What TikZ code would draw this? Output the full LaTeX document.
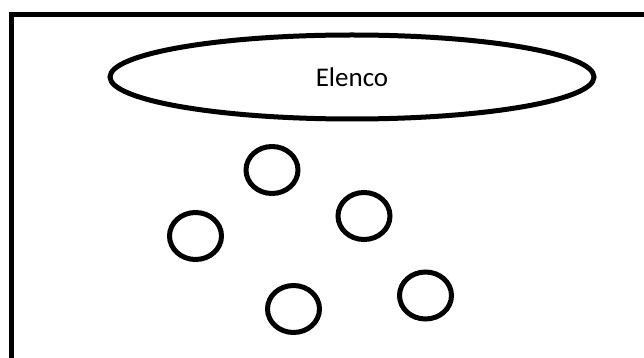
\documentclass[tikz,border=0pt]{standalone}
\usepackage{fontspec}
\setmainfont{Carlito}
\usetikzlibrary{shapes.geometric}

\tikzset{
  frame/.style={draw=black, line width=5pt},
  castoval/.style={ellipse, draw=black, line width=5pt, inner sep=0pt,
    minimum width=484pt, minimum height=84pt},
  member/.style={ellipse, draw=black, line width=5pt, inner sep=0pt,
    minimum width=52pt, minimum height=47pt},
  label/.style={font=\fontsize{27}{32}\selectfont, anchor=base}
}

\begin{document}
\begin{tikzpicture}[x=1pt, y=-1pt]
  \useasboundingbox (0,0) rectangle (644,358);
  \clip (0,0) rectangle (644,358);

  % outer frame, running past the right and bottom edges
  \draw[frame] (11.5,14.5) rectangle (680,400);

  % cast oval with its caption
  \node[castoval] (cast) at (352,77) {};
  \node[label] (castlabel) at (352,87) {Elenco};

  % individual cast members
  \node[member] (m1) at (272,170) {};
  \node[member] (m2) at (195.5,236) {};
  \node[member] (m3) at (364,216) {};
  \node[member] (m4) at (293.5,309) {};
  \node[member] (m5) at (425.5,295.5) {};
\end{tikzpicture}
\end{document}
